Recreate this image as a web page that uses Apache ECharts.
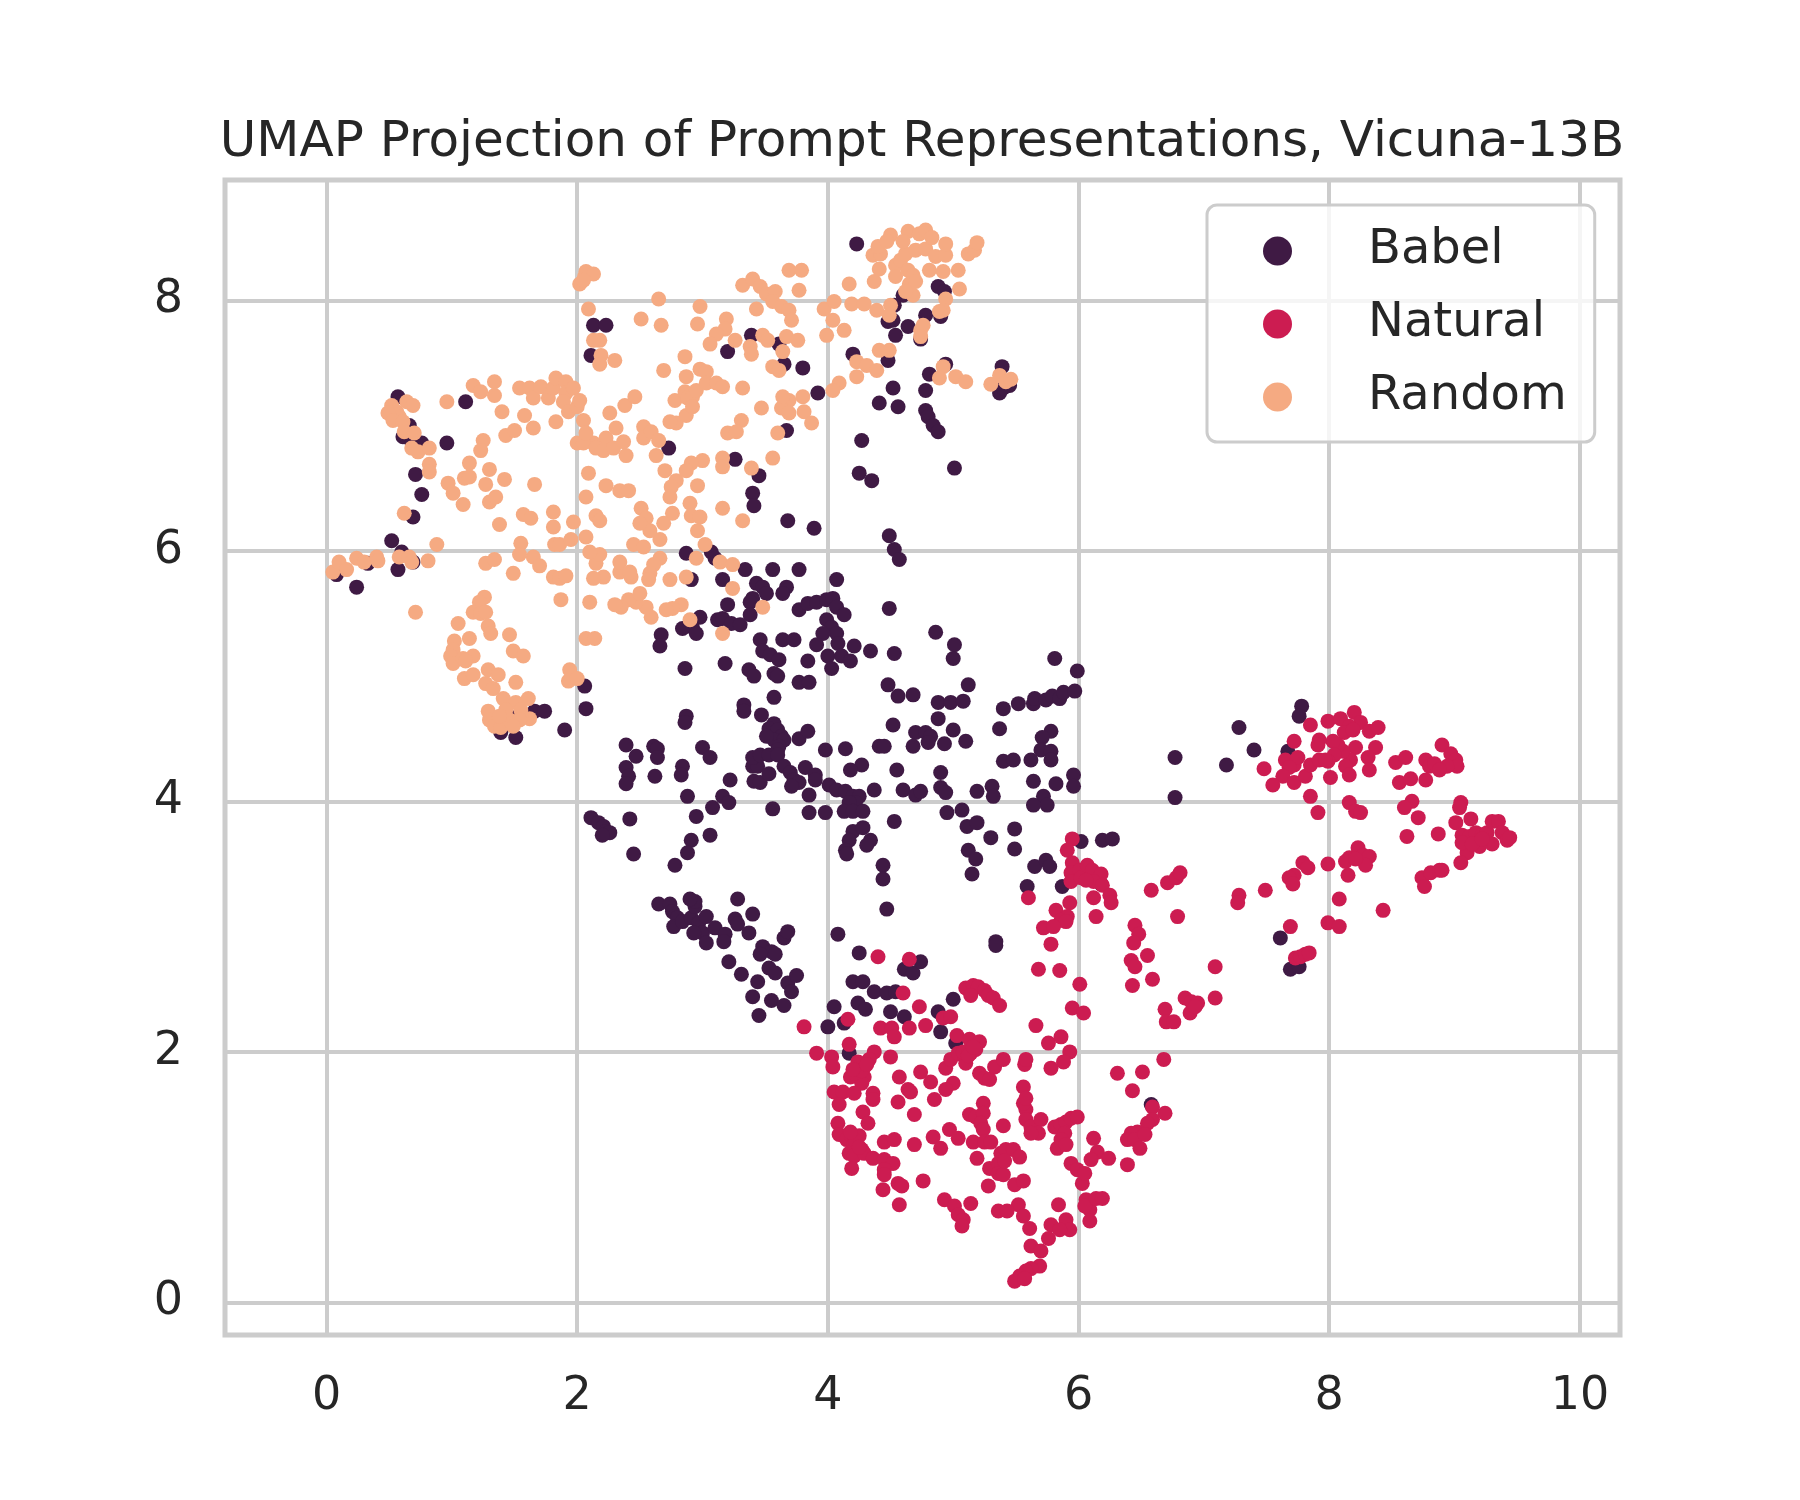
<!DOCTYPE html>
<html><head><meta charset="utf-8">
<script src="https://cdn.jsdelivr.net/npm/echarts@6/dist/echarts.min.js"></script>
<style>html,body{margin:0;padding:0;background:#fff}#c{width:1800px;height:1500px}</style>
</head><body><div id="c"></div>
<script>
const titleText = 'UMAP Projection of Prompt Representations, Vicuna-13B';
const categories = ['Babel', 'Natural', 'Random'];
const colors = ['#3f1a44', '#cc1c51', '#f5aa82'];

const random = [
[1.17,7.32],[1.23,7.27],[1.34,7.35],[1.34,7.24],[0.96,7.19],[1.54,7.30],[1.62,7.30],[1.65,7.22],[1.71,7.31],[1.77,7.22],[1.81,7.30],[1.83,7.38],[1.91,7.35],[1.91,7.26],[1.97,7.30],[1.89,7.19],[1.93,7.11],[2.0,7.15],[1.40,7.11],[1.58,7.08],[1.65,6.98],[1.43,6.92],[1.50,6.96],[1.83,7.03],[2.0,6.86],
[0.52,7.16],[0.56,7.11],[0.58,7.07],[0.64,7.19],[0.69,7.16],[0.49,7.10],[0.53,7.04],[0.61,7.03],[0.62,6.95],[0.70,6.94],[0.68,6.82],[0.73,6.79],[0.82,6.82],[0.82,6.69],[0.82,6.63],[0.97,6.54],[1.01,6.46],[1.09,6.37],[1.14,6.70],[1.10,6.58],[1.14,6.59],[1.25,6.88],[1.23,6.80],[1.30,6.65],[1.27,6.53],[1.42,6.57],[1.30,6.39],[1.35,6.43],[1.66,6.53],[1.38,6.21],[1.57,6.29],[1.63,6.26],[1.81,6.31],[1.81,6.19],[1.82,6.05],[1.86,6.05],[1.55,6.06],[1.54,5.97],[1.97,6.23],[1.95,6.09],[0.62,6.30],[0.88,6.05],[0.81,5.92],[1.27,5.90],[1.34,5.93],[1.49,5.82],[1.65,5.95],[1.70,5.88],[1.81,5.79],[1.86,5.78],[1.91,5.80],[1.87,5.61],
[0.05,5.83],[0.10,5.91],[0.16,5.85],[0.24,5.94],[0.30,5.91],[0.40,5.95],[0.41,5.92],[0.58,5.95],[0.66,5.95],[0.68,5.91],[0.71,5.51],
[1.26,5.63],[1.22,5.59],[1.17,5.51],[1.23,5.50],[1.27,5.51],[1.05,5.42],[1.29,5.40],[1.31,5.34],[1.14,5.30],[1.02,5.28],[1.01,5.21],[0.99,5.16],[1.01,5.10],[1.09,5.14],[1.17,5.16],[1.11,5.12],[1.46,5.33],[1.49,5.20],[1.57,5.16],[1.10,4.98],[1.17,5.01],[1.29,5.05],[1.37,5.01],[1.27,4.94],[1.33,4.90],[1.51,4.95],[1.94,5.05],[1.93,4.96],[2.0,4.98],
[1.41,4.82],[1.29,4.72],[1.30,4.65],[1.34,4.60],[1.39,4.59],[1.46,4.65],[1.51,4.79],[1.55,4.73],[1.61,4.82],[1.62,4.66],[1.54,4.65],[1.43,4.73],[1.38,4.68],[1.49,4.60],
[2.06,8.19],[2.02,8.13],[2.07,8.23],[2.13,8.21],[2.05,8.16],[2.65,8.01],[2.09,7.93],[2.51,7.85],[2.67,7.80],[2.98,7.95],[2.96,7.81],[3.19,7.85],[3.18,7.77],[3.11,7.73],[3.06,7.65],[3.26,7.68],[3.38,7.63],[3.39,7.57],[3.32,8.12],[3.40,8.17],[3.46,8.11],[3.51,8.05],[3.58,8.07],[3.56,7.99],[3.63,7.95],[3.69,7.92],[3.71,7.84],[3.69,8.24],[3.79,8.24],[3.77,8.08],[3.43,7.93],[3.48,7.72],[3.52,7.68],[3.67,7.71],[3.76,7.68],[3.64,7.59],[3.56,7.47],[3.61,7.44],
[3.99,7.72],[4.04,7.84],[3.97,7.93],[4.05,7.99],[4.17,8.13],[4.19,7.97],[4.29,7.97],[4.39,7.92],[4.50,7.96],[4.49,7.88],[4.13,7.76],[4.41,7.60],[4.49,7.60],[4.23,7.51],[4.31,7.48],[4.39,7.44],[4.23,7.39],[4.92,7.47],[4.89,7.38],[5.02,7.39],[5.10,7.35],[4.09,7.34],[4.04,7.28],
[4.54,8.28],[4.58,8.32],[4.62,8.37],[4.70,8.40],[4.78,8.41],[4.86,8.35],[4.94,8.36],[4.94,8.45],[4.64,8.24],[4.68,8.20],[4.81,8.24],[4.92,8.23],[5.04,8.24],[5.12,8.37],[5.17,8.40],[4.54,8.19],[4.65,8.13],[4.70,8.15],[4.68,8.04],[4.62,8.07],[5.05,8.09],[4.94,8.01],[4.92,7.92],[4.89,7.91],[4.74,7.76],[4.76,7.80],[4.74,7.71],[4.36,8.36],[4.42,8.37],[4.40,8.43],[4.37,8.15],[4.41,8.25],
[4.50,8.52],[4.64,8.55],[4.73,8.53],[4.78,8.56],[4.83,8.50],[4.60,8.47],[5.19,8.46],[4.47,8.47],
[5.30,7.33],[5.37,7.40],[5.42,7.35],[5.46,7.37],
[3.80,7.23],[3.69,7.20],[3.63,7.14],[3.69,7.10],[3.81,7.11],[3.87,7.02],[3.64,7.23],[3.32,7.30],[3.47,7.14],[3.31,7.04],[3.20,6.94],[3.27,6.95],[3.60,6.94],[3.56,6.74],[3.39,6.66],[3.16,6.74],[3.16,6.67],[3.00,6.72],[2.91,6.70],[2.87,6.64],[2.79,6.56],[2.75,6.51],[2.74,6.43],[2.96,6.52],[2.90,6.38],[2.91,6.28],[2.98,6.27],[2.96,6.16],[3.16,6.34],[3.32,6.24],[2.76,6.30],[2.69,6.22],[2.66,6.09],[2.51,6.34],[2.55,6.26],[2.58,6.16],[2.50,6.22],[2.45,6.05],[2.53,6.03],[3.02,6.05],[2.95,5.94],[3.14,5.91],[3.24,5.89],[2.66,5.94],[2.61,5.89],[2.58,5.82],[2.57,5.77],[2.74,5.77],[2.87,5.79],[3.24,5.70],[3.48,5.55],[3.16,5.34],
[2.83,5.57],[2.90,5.45],[2.76,5.54],[2.71,5.53],[2.59,5.47],[2.55,5.55],[2.47,5.59],[2.41,5.61],[2.35,5.55],[2.30,5.57],[2.50,5.66],[2.43,5.79],[2.34,5.83],[2.34,5.91],[2.42,5.83],[2.21,5.79],[2.13,5.78],[2.15,5.90],[2.18,5.97],[2.10,5.99],[2.07,6.11],[2.10,5.59],[2.07,5.30],[2.14,5.30],[2.09,6.62],[2.07,6.43],[2.23,6.52],[2.34,6.48],[2.41,6.48],[2.15,6.28],[2.18,6.24],
[2.23,6.90],[2.13,6.86],[2.05,6.86],[2.15,6.82],[2.21,6.80],[2.29,6.82],[2.37,6.87],[2.39,6.76],[2.26,7.10],[2.38,7.16],[2.46,7.23],[2.31,6.98],[2.53,6.99],[2.53,6.90],[2.59,6.95],[2.65,6.88],[2.63,6.76],[2.70,6.64],[2.78,7.20],[2.79,7.02],[2.74,7.03],[2.86,7.27],[2.88,7.22],[2.92,7.23],[2.95,7.28],[2.87,7.08],[2.92,7.15],[2.87,7.39],[2.98,7.45],[3.03,7.43],[3.03,7.34],[3.11,7.34],[3.16,7.31],[2.86,7.55],[2.69,7.44],[2.18,7.68],[2.13,7.68],[2.19,7.56],[2.30,7.52],[2.18,7.49],[2.02,7.20],[2.05,7.04],[2.07,6.94]
];

const babel = [
[0.57,7.23],[1.11,7.19],[0.66,7.00],[0.61,6.91],[0.68,6.87],[0.76,6.86],[0.96,6.86],[0.71,6.61],[0.76,6.45],[0.69,6.27],[0.52,6.08],[0.60,5.99],[0.69,5.91],[0.57,5.85],[0.33,5.90],[0.08,5.81],[0.24,5.71],[1.66,4.72],[1.74,4.72],[1.90,4.57],[1.47,4.67],[1.54,4.67],[1.39,4.55],[1.51,4.51],[2.06,4.92],[2.07,4.74],
[2.13,7.80],[2.23,7.80],[2.11,7.56],[3.20,7.59],[3.39,7.72],[3.61,7.65],[3.65,7.49],[3.80,7.46],[3.92,7.26],[2.73,6.82],[3.26,6.73],[3.45,6.60],[3.40,6.46],[3.41,6.36],[3.67,6.96],[3.68,6.24],[3.89,6.18],[4.20,7.57],[4.27,6.88],[4.25,6.62],[4.35,6.56],
[4.52,7.84],[4.48,7.83],[4.54,7.72],[4.64,7.79],[4.78,7.88],[4.90,7.87],[4.88,8.11],[4.93,8.07],[4.60,8.04],[4.53,7.96],[4.74,7.69],[4.23,8.45],[4.48,7.52],[4.94,7.49],[4.81,7.41],[4.52,7.30],[4.41,7.18],[4.56,7.15],[4.78,7.28],[4.78,7.12],[4.80,7.07],[4.84,7.00],[4.88,6.95],[5.01,6.66],[4.49,6.12],[4.53,6.01],[4.57,5.93],
[5.39,7.47],[5.45,7.32],[5.37,7.26],[5.40,7.30],
[2.87,5.98],[3.07,5.99],[3.10,5.94],[2.91,5.77],[3.34,5.85],[3.56,5.85],[3.77,5.85],[4.07,5.77],[3.16,5.77],[3.43,5.74],[3.48,5.71],[3.51,5.66],[3.40,5.62],[3.38,5.59],[3.67,5.71],[3.64,5.66],[3.20,5.57],[3.38,5.49],[2.98,5.47],[2.92,5.39],[2.84,5.38],[2.95,5.34],[3.12,5.45],[3.16,5.46],[3.23,5.42],[3.30,5.41],[2.67,5.33],
[3.77,5.53],[3.84,5.58],[3.91,5.59],[3.99,5.61],[4.04,5.62],[4.07,5.55],[4.13,5.49],[3.99,5.45],[4.03,5.39],[4.07,5.34],[3.96,5.34],[4.49,5.54],[4.86,5.35],
[2.66,5.24],[3.46,5.29],[3.64,5.29],[3.73,5.29],[3.91,5.25],[4.08,5.26],[4.21,5.24],[4.34,5.20],[4.53,5.18],[5.01,5.25],[5.00,5.14],
[2.86,5.06],[3.18,5.10],[3.48,5.20],[3.54,5.17],[3.61,5.13],[3.37,5.05],[3.41,5.00],[3.57,5.02],[3.60,5.00],[3.84,5.12],[4.00,5.16],[4.11,5.16],[4.18,5.12],[4.03,5.06],[3.77,4.95],[3.85,4.95],[3.57,4.83],[5.81,5.14],[5.99,5.04],[4.48,4.93],[4.56,4.84],[4.68,4.85],[5.12,4.93],[4.88,4.79],[4.98,4.79],[5.08,4.80],[5.40,4.74],[5.52,4.78],[5.64,4.78],[5.65,4.82],[5.74,4.81],[5.79,4.84],[5.85,4.82],[5.88,4.87],[5.97,4.88],
[3.33,4.77],[3.33,4.72],[3.47,4.69],[2.87,4.68],[2.86,4.63],[3.57,4.62],[3.53,4.58],[3.60,4.57],[3.63,4.52],[3.57,4.49],[3.51,4.52],[3.65,4.49],[3.61,4.44],[3.60,4.41],[3.77,4.50],[3.84,4.56],[4.52,4.61],[4.88,4.66],[5.00,4.57],[4.70,4.55],[4.78,4.55],[4.82,4.52],[4.80,4.47],[4.68,4.44],[4.93,4.46],[5.10,4.48],[5.37,4.58],[5.78,4.56],[5.71,4.51],[4.41,4.44],[4.45,4.44],[3.98,4.41],[4.14,4.42],[5.70,4.41],[5.78,4.40],[5.78,4.33],[5.62,4.33],[5.40,4.32],[5.48,4.33],
[2.39,4.45],[2.47,4.36],[2.61,4.44],[2.64,4.42],[2.64,4.35],[2.39,4.27],[2.41,4.20],[2.39,4.14],[2.62,4.20],[2.84,4.28],[2.83,4.21],[3.00,4.43],[3.06,4.35],[2.88,4.04],[3.22,4.17],[3.16,4.04],[3.21,3.99],[3.08,3.95],
[3.40,4.28],[3.44,4.28],[3.41,4.16],[3.46,4.15],[3.53,4.22],[3.40,4.35],[3.46,4.37],[3.53,4.37],[3.60,4.37],[3.65,4.28],[3.70,4.23],[3.73,4.17],[3.77,4.15],[3.82,4.27],[3.90,4.21],[3.90,4.17],[3.71,4.12],[3.56,3.94],[3.85,4.05],[3.85,3.91],[3.98,3.91],
[4.01,4.13],[4.07,4.09],[4.14,4.08],[4.20,4.04],[4.25,4.04],[4.22,3.99],[4.17,3.99],[4.13,3.92],[4.20,3.92],[4.28,3.92],[4.27,4.29],[4.18,4.25],[4.37,4.09],[4.55,4.25],[4.60,4.09],[4.70,4.05],[4.74,4.08],[4.90,4.23],[4.90,4.11],[4.94,4.07],[5.19,4.08],[5.31,4.12],[5.32,4.04],[5.64,4.16],[5.72,4.04],[5.75,3.97],[5.64,3.97],[5.82,4.14],[5.96,4.21],[5.96,4.12],[4.95,3.91],[5.07,3.93],[4.53,3.84],[5.11,3.80],[5.19,3.83],[5.30,3.71],[5.49,3.78],[5.49,3.62],[5.12,3.61],[5.18,3.54],[5.15,3.42],
[4.20,3.76],[4.17,3.69],[4.14,3.61],[4.15,3.58],[4.28,3.79],[4.34,3.69],[4.31,3.65],[4.44,3.49],[4.44,3.38],[4.47,3.14],
[2.11,3.87],[2.17,3.83],[2.21,3.80],[2.23,3.76],[2.26,3.75],[2.20,3.73],[2.42,3.86],[2.45,3.58],[2.95,3.88],[2.91,3.69],[2.88,3.59],[3.06,3.73],[2.78,3.49],
[5.65,3.48],[5.74,3.53],[5.77,3.48],[5.59,3.32],[5.87,3.32],[6.02,3.68],[6.19,3.69],[6.27,3.70],[6.18,3.34],[5.34,2.88],[5.34,2.85],
[2.65,3.18],[2.74,3.18],[2.76,3.12],[2.80,3.07],[2.77,3.00],[2.84,3.04],[2.91,3.07],[2.94,3.16],[2.94,3.20],[2.90,3.22],[2.97,3.03],[3.03,3.08],[3.00,2.95],[3.03,2.87],[3.10,2.99],[3.18,2.94],[3.17,2.88],[3.26,3.06],[3.28,3.02],[3.37,2.95],[3.40,3.10],[3.28,3.22],[2.93,2.95],
[3.48,2.84],[3.55,2.80],[3.58,2.78],[3.46,2.78],[3.65,2.91],[3.68,2.96],[3.21,2.72],[3.53,2.67],[3.58,2.63],[3.31,2.62],[3.44,2.56],[3.40,2.44],[3.55,2.41],[3.65,2.37],[3.45,2.29],[3.68,2.55],[3.71,2.48],[3.75,2.61],
[4.08,2.94],[4.25,2.79],[4.61,2.66],[4.68,2.63],[4.74,2.72],[4.20,2.56],[4.28,2.56],[4.37,2.48],[4.47,2.47],[4.54,2.48],[4.05,2.36],[4.24,2.39],[4.30,2.34],[5.00,2.42],[4.50,2.32],[4.61,2.28],[4.88,2.32],[4.00,2.20],[4.13,2.23],[4.90,2.16],[5.02,2.07],[4.17,1.99],
[6.77,4.35],[6.77,4.03],[6.58,1.58],
[7.78,4.76],[7.76,4.68],[7.28,4.59],[7.40,4.41],[7.67,4.40],[7.18,4.29],[7.61,2.91],[7.69,2.66],[7.76,2.68]
];

const natural = [
[5.95,3.70],[5.91,3.61],[5.95,3.51],[5.94,3.43],[6.01,3.45],[5.94,3.36],[6.02,3.39],[6.07,3.49],[6.11,3.45],[6.18,3.42],[6.12,3.36],[6.06,3.37],[6.19,3.33],[5.60,3.23],[6.25,3.25],[6.26,3.19],[6.12,3.23],[5.93,3.19],[6.14,3.08],[5.82,3.13],[5.91,3.08],[5.86,3.05],[5.90,3.04],[5.72,2.99],[5.80,3.00],[5.78,2.86],[5.68,2.66],[5.85,2.65],[6.01,2.54],[5.95,2.35],[6.04,2.31],
[6.58,3.29],[6.71,3.35],[6.78,3.39],[6.81,3.43],[6.79,3.08],[6.45,3.01],[6.48,2.94],[6.44,2.87],[6.55,2.77],[6.42,2.73],[6.45,2.68],[6.59,2.58],[6.43,2.53],[7.09,2.68],[6.69,2.34],[6.70,2.24],[6.76,2.24],[6.85,2.43],[6.90,2.40],[6.95,2.39],[6.89,2.31],[6.93,2.36],[7.09,2.43],[6.68,1.94],[6.31,1.83],[6.51,1.84],[6.43,1.69],[6.59,1.56],[6.69,1.51],[6.59,1.46],[6.55,1.43],[6.47,1.36],[6.42,1.35],[6.39,1.30],[6.45,1.30],[6.53,1.34],[6.49,1.23],[6.12,1.31],[6.15,1.20],[6.10,1.14],[6.24,1.15],[6.39,1.10],
[5.10,2.51],[5.16,2.53],[5.20,2.52],[5.25,2.49],[5.28,2.45],[5.32,2.43],[5.37,2.37],[5.14,2.45],[4.40,2.76],[4.65,2.74],[4.60,2.47],[4.73,2.36],[4.16,2.26],[3.81,2.20],[4.92,2.27],[4.98,2.28],[4.78,2.21],[4.42,2.19],[4.51,2.19],[4.65,2.19],[4.53,2.12],[4.17,2.06],[5.03,2.13],[5.13,2.10],[5.21,2.08],[5.66,2.21],[5.76,2.07],[5.86,2.12],[5.93,2.00],[5.88,1.92],[5.78,1.87],[3.91,1.99],[4.03,1.96],[4.04,1.88],[4.37,2.00],[4.33,1.94],[4.29,1.88],[4.23,1.83],[4.18,1.80],[4.29,1.80],[4.27,1.75],[4.21,1.83],[4.24,1.92],[4.27,1.85],[4.20,1.86],[4.31,1.90],[4.50,1.96],[4.74,1.84],[4.57,1.80],[4.94,1.87],[4.98,1.94],[5.04,1.99],[5.09,1.96],[5.10,1.91],[5.14,1.99],[5.18,2.02],[5.08,2.00],[5.12,1.97],[5.16,2.04],[4.82,1.76],[5.00,1.75],[5.21,1.83],[5.25,1.79],[5.29,1.78],[5.33,1.88],[5.40,1.94],[5.57,1.90],[5.58,1.94],[5.56,1.72],
[4.05,1.68],[4.12,1.68],[4.09,1.58],[4.21,1.67],[4.36,1.67],[4.36,1.62],[4.56,1.60],[4.64,1.70],[4.66,1.68],[4.85,1.62],[4.94,1.70],[4.69,1.50],[4.28,1.52],[4.32,1.43],[4.08,1.43],[4.09,1.34],[4.15,1.30],[4.19,1.33],[4.21,1.26],[4.25,1.33],[4.27,1.22],[4.17,1.19],[4.21,1.17],[4.19,1.07],[4.29,1.19],[4.36,1.15],[4.22,1.29],[4.25,1.24],[4.18,1.36],[4.45,1.28],[4.53,1.30],[4.45,1.14],[4.52,1.11],[4.45,1.06],[4.45,1.02],[4.56,0.95],[4.59,0.93],[4.44,0.90],[4.69,1.26],[4.57,0.78],[4.76,0.97],[4.84,1.32],[4.90,1.23],[4.97,1.38],[5.04,1.31],[4.93,0.82],[5.01,0.77],[5.04,0.70],[5.08,0.66],[5.07,0.61],[5.14,0.79],[5.13,1.50],[5.18,1.48],[5.24,1.59],[5.24,1.51],[5.22,1.43],[5.24,1.38],[5.16,1.28],[5.25,1.28],[5.30,1.28],[5.19,1.15],[5.29,1.07],[5.36,1.11],[5.38,1.19],[5.42,1.22],[5.48,1.22],[5.36,1.03],[5.40,1.02],[5.53,1.16],[5.41,1.13],[5.28,0.93],[5.49,0.94],[5.56,0.97],[5.40,1.41],[5.58,1.54],[5.58,1.46],[5.62,1.40],[5.70,1.46],[5.68,1.35],[5.62,1.35],[5.56,1.59],[5.58,1.63],[5.81,1.40],[5.86,1.42],[5.90,1.44],[5.94,1.47],[5.99,1.48],[5.89,1.35],[5.86,1.30],[5.83,1.23],[5.90,1.26],[5.52,0.78],[5.36,0.73],[5.43,0.73],[5.56,0.69],[5.61,0.59],[5.84,0.78],[5.78,0.62],[5.90,0.66],[5.93,0.58],[5.85,0.58],[5.76,0.51],[5.62,0.45],[5.70,0.41],[5.69,0.29],[5.62,0.27],[5.58,0.25],[5.53,0.21],[5.49,0.17],[5.57,0.19],[5.94,1.11],[5.99,1.06],[6.03,0.95],[6.05,1.03],[6.06,0.82],[6.09,0.74],[6.05,0.77],[6.14,0.83],[6.19,0.83],[6.09,0.65],
[7.99,4.64],[8.09,4.66],[8.20,4.71],[8.25,4.63],[8.16,4.60],[8.12,4.55],[8.19,4.57],[8.32,4.56],[8.39,4.59],[8.37,4.43],[8.31,4.35],[8.32,4.25],[8.21,4.43],[8.17,4.33],[8.13,4.28],[8.16,4.21],[8.11,4.40],[8.07,4.45],[8.03,4.48],[8.04,4.37],[7.99,4.32],[7.92,4.49],[7.91,4.45],[7.85,4.61],[7.72,4.48],[7.65,4.33],[7.72,4.29],[7.75,4.35],[7.68,4.27],[7.63,4.20],[7.55,4.13],[7.72,4.15],[7.81,4.20],[7.85,4.29],[7.92,4.33],[7.97,4.33],[8.01,4.19],[7.48,4.26],[7.85,4.04],[7.91,3.91],[8.16,3.99],[8.21,3.92],[8.25,3.91],
[8.53,4.31],[8.61,4.35],[8.56,4.15],[8.65,4.18],[8.77,4.33],[8.80,4.28],[8.84,4.30],[8.90,4.45],[8.97,4.38],[9.01,4.33],[9.02,4.28],[8.94,4.28],[8.88,4.25],[8.77,4.17],[8.66,4.00],[8.60,3.95],[8.71,3.87],[8.62,3.72],[8.87,3.74],[9.05,3.99],[9.04,3.95],[9.01,3.83],[9.13,3.86],
[9.06,3.73],[9.12,3.72],[9.17,3.75],[9.22,3.73],[9.26,3.75],[9.30,3.84],[9.35,3.84],[9.38,3.75],[9.42,3.69],[9.44,3.71],[9.30,3.66],[9.20,3.64],[9.10,3.59],[9.06,3.67],[9.14,3.66],[9.22,3.70],[9.05,3.51],[8.74,3.39],[8.81,3.43],[8.88,3.45],[8.90,3.45],[8.76,3.32],
[8.16,3.55],[8.23,3.63],[8.27,3.57],[8.32,3.56],[8.29,3.49],[8.13,3.52],[8.21,3.54],[7.99,3.50],[8.15,3.41],[8.08,3.22],[8.43,3.13],[7.99,3.03],[8.08,3.00],[7.79,3.51],[7.83,3.47],[7.72,3.41],[7.68,3.39],[7.71,3.34],[7.49,3.29],[7.28,3.25],[7.27,3.19],[7.69,3.00],[7.73,2.75],[7.77,2.76],[7.81,2.78],[7.84,2.79]
];

const seriesData = { Babel: babel, Natural: natural, Random: random };
const drawOrder = ['Babel', 'Random', 'Natural'];

const chart = echarts.init(document.getElementById('c'), null, { renderer: 'canvas' });
const tickFmt = v => {
  const r = Math.round(v);
  return (Math.abs(v - r) < 1e-6 && r % 2 === 0) ? String(r) : '';
};
const font = 'DejaVu Sans';
const axisCommon = {
  type: 'value', splitNumber: 5,
  axisLine: { show: false }, axisTick: { show: false },
  splitLine: { show: true, lineStyle: { color: '#cccccc', width: 4 } },
  axisLabel: { formatter: tickFmt, fontSize: 46, color: '#262626', fontFamily: font }
};
chart.setOption({
  animation: false,
  backgroundColor: '#ffffff',
  title: {
    text: titleText, left: 917, top: 113, textAlign: 'center',
    textStyle: { fontFamily: font, fontSize: 50, fontWeight: 'normal', color: '#262626' }
  },
  grid: { left: 225, top: 180, right: 180, bottom: 165, show: true, borderColor: '#cccccc', borderWidth: 5, containLabel: false },
  xAxis: Object.assign({}, axisCommon, { min: -0.81, max: 10.32,
    axisLabel: Object.assign({}, axisCommon.axisLabel, { margin: 39 }) }),
  yAxis: Object.assign({}, axisCommon, { min: -0.26, max: 8.96,
    axisLabel: Object.assign({}, axisCommon.axisLabel, { margin: 42 }) }),
  legend: {
    orient: 'vertical', left: 1207, top: 205,
    data: categories, icon: 'circle', itemWidth: 29, itemHeight: 29, itemGap: 19,
    padding: [19, 28, 18, 56],
    backgroundColor: 'rgba(255,255,255,0.8)', borderColor: '#cccccc', borderWidth: 3, borderRadius: 10,
    textStyle: { fontSize: 48, fontFamily: font, color: '#262626', padding: [0, 0, 0, 71], lineHeight: 54 }
  },
  series: drawOrder.map(name => ({
    name: name, type: 'scatter', data: seriesData[name], symbolSize: 15,
    itemStyle: { color: colors[categories.indexOf(name)], opacity: 1 },
    emphasis: { disabled: true }
  }))
});
</script></body></html>
